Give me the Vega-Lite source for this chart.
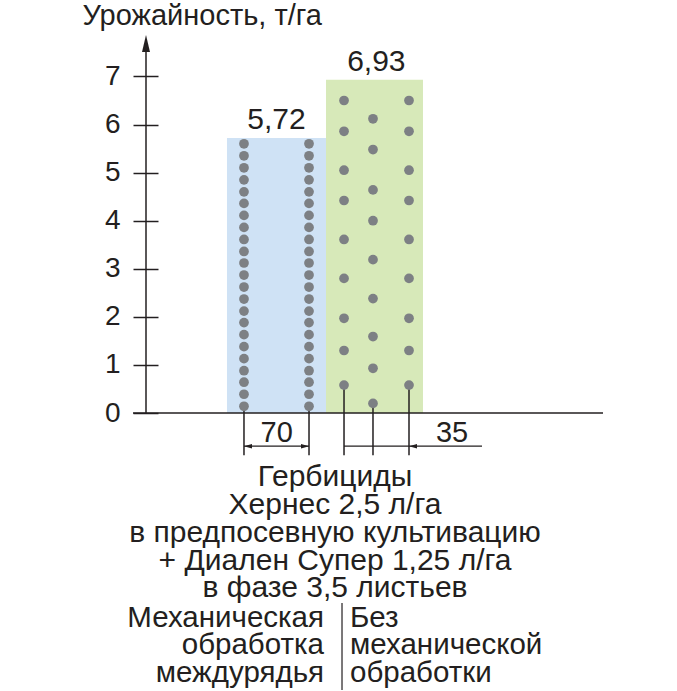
{
  "$schema": "https://vega.github.io/schema/vega-lite/v6.json",
  "width": 457,
  "height": 375,
  "autosize": {"type": "none"},
  "padding": {"left": 146, "top": 38, "right": 74, "bottom": 278},
  "background": "white",
  "config": {
    "view": {"stroke": null},
    "font": "Liberation Sans",
    "locale": {"number": {"decimal": ",", "thousands": " ", "grouping": [3], "currency": ["", " ₽"]}},
    "text": {"font": "Liberation Sans", "fontSize": 28, "color": "#231f20"}
  },
  "datasets": {
    "bars": [
      {"group": "Механическая обработка междурядья", "yield": 5.72, "x0": 17.72, "x1": 39.39, "xc": 28.55},
      {"group": "Без механической обработки", "yield": 6.93, "x0": 39.39, "x1": 60.61, "xc": 50.4}
    ],
    "dots": [
      {"x": 21.44, "y": 0.14}, {"x": 21.44, "y": 0.39}, {"x": 21.44, "y": 0.64}, {"x": 21.44, "y": 0.88},
      {"x": 21.44, "y": 1.13}, {"x": 21.44, "y": 1.38}, {"x": 21.44, "y": 1.63}, {"x": 21.44, "y": 1.88},
      {"x": 21.44, "y": 2.12}, {"x": 21.44, "y": 2.37}, {"x": 21.44, "y": 2.62}, {"x": 21.44, "y": 2.87},
      {"x": 21.44, "y": 3.12}, {"x": 21.44, "y": 3.36}, {"x": 21.44, "y": 3.61}, {"x": 21.44, "y": 3.86},
      {"x": 21.44, "y": 4.11}, {"x": 21.44, "y": 4.36}, {"x": 21.44, "y": 4.60}, {"x": 21.44, "y": 4.85},
      {"x": 21.44, "y": 5.10}, {"x": 21.44, "y": 5.35}, {"x": 21.44, "y": 5.60},
      {"x": 35.67, "y": 0.14}, {"x": 35.67, "y": 0.39}, {"x": 35.67, "y": 0.64}, {"x": 35.67, "y": 0.88},
      {"x": 35.67, "y": 1.13}, {"x": 35.67, "y": 1.38}, {"x": 35.67, "y": 1.63}, {"x": 35.67, "y": 1.88},
      {"x": 35.67, "y": 2.12}, {"x": 35.67, "y": 2.37}, {"x": 35.67, "y": 2.62}, {"x": 35.67, "y": 2.87},
      {"x": 35.67, "y": 3.12}, {"x": 35.67, "y": 3.36}, {"x": 35.67, "y": 3.61}, {"x": 35.67, "y": 3.86},
      {"x": 35.67, "y": 4.11}, {"x": 35.67, "y": 4.36}, {"x": 35.67, "y": 4.60}, {"x": 35.67, "y": 4.85},
      {"x": 35.67, "y": 5.10}, {"x": 35.67, "y": 5.35}, {"x": 35.67, "y": 5.60},
      {"x": 43.33, "y": 6.50}, {"x": 43.33, "y": 5.86}, {"x": 43.33, "y": 5.05}, {"x": 43.33, "y": 4.42},
      {"x": 43.33, "y": 3.61}, {"x": 43.33, "y": 2.80}, {"x": 43.33, "y": 1.97}, {"x": 43.33, "y": 1.30},
      {"x": 43.33, "y": 0.58},
      {"x": 57.55, "y": 6.50}, {"x": 57.55, "y": 5.86}, {"x": 57.55, "y": 5.05}, {"x": 57.55, "y": 4.42},
      {"x": 57.55, "y": 3.61}, {"x": 57.55, "y": 2.80}, {"x": 57.55, "y": 1.97}, {"x": 57.55, "y": 1.30},
      {"x": 57.55, "y": 0.58},
      {"x": 49.67, "y": 6.12}, {"x": 49.67, "y": 5.48}, {"x": 49.67, "y": 4.64}, {"x": 49.67, "y": 4.00},
      {"x": 49.67, "y": 3.19}, {"x": 49.67, "y": 2.38}, {"x": 49.67, "y": 1.59}, {"x": 49.67, "y": 0.93},
      {"x": 49.67, "y": 0.20}
    ],
    "rows": [
      {"x": 21.44, "y": 0.14}, {"x": 35.67, "y": 0.14},
      {"x": 43.33, "y": 0.58}, {"x": 49.67, "y": 0.20}, {"x": 57.55, "y": 0.58}
    ],
    "spacing": [
      {"label": "70", "x": 21.44, "x2": 35.67, "xl": 28.6},
      {"label": "35", "x": 43.33, "x2": 73.52, "xl": 66.96}
    ],
    "arrowsLeft": [{"x": 21.44}, {"x": 57.55}],
    "arrowsRight": [{"x": 35.67}],
    "caption": [
      {"line": "Гербициды", "y": -1.52},
      {"line": "Хернес 2,5 л/га", "y": -2.10},
      {"line": "в предпосевную культивацию", "y": -2.68},
      {"line": "+ Диален Супер 1,25 л/га", "y": -3.265},
      {"line": "в фазе 3,5 листьев", "y": -3.83}
    ],
    "leftCol": [
      {"line": "Механическая", "y": -4.45},
      {"line": "обработка", "y": -5.01},
      {"line": "междурядья", "y": -5.60}
    ],
    "rightCol": [
      {"line": "Без", "y": -4.45},
      {"line": "механической", "y": -5.01},
      {"line": "обработки", "y": -5.60}
    ]
  },
  "layer": [
    {
      "data": {"name": "bars"},
      "mark": {"type": "rect"},
      "encoding": {
        "x": {"field": "x0", "type": "quantitative", "scale": {"domain": [0, 100], "nice": false, "zero": false}, "axis": null},
        "x2": {"field": "x1"},
        "y": {"field": "yield", "type": "quantitative",
          "scale": {"domain": [0, 7.8], "nice": false},
          "axis": {
            "values": [0, 1, 2, 3, 4, 5, 6, 7],
            "domain": false, "grid": false,
            "ticks": true, "tickSize": 25, "tickWidth": 1.5, "tickColor": "#231f20",
            "offset": -12, "labelPadding": 13,
            "labelFont": "Liberation Sans", "labelFontSize": 28, "labelColor": "#231f20",
            "title": "Урожайность, т/га", "titleAngle": 0, "titleFont": "Liberation Sans",
            "titleFontSize": 29, "titleFontWeight": "normal", "titleColor": "#231f20",
            "titleAlign": "left", "titleBaseline": "alphabetic", "titleX": -76, "titleY": -14
          }
        },
        "y2": {"datum": 0},
        "color": {"field": "group", "type": "nominal", "legend": null,
          "scale": {"domain": ["Механическая обработка междурядья", "Без механической обработки"], "range": ["#cfe2f5", "#d7e9b9"]}}
      }
    },
    {
      "data": {"name": "bars"},
      "mark": {"type": "text", "baseline": "alphabetic", "align": "center", "dy": -9, "fontSize": 30},
      "encoding": {
        "x": {"field": "xc", "type": "quantitative"},
        "y": {"field": "yield", "type": "quantitative"},
        "text": {"field": "yield", "type": "quantitative", "format": ".2f"}
      }
    },
    {
      "data": {"name": "rows"},
      "mark": {"type": "rule", "strokeWidth": 1.5, "color": "#231f20"},
      "encoding": {
        "x": {"field": "x", "type": "quantitative"},
        "y": {"field": "y", "type": "quantitative"},
        "y2": {"datum": -0.88}
      }
    },
    {
      "data": {"name": "dots"},
      "mark": {"type": "point", "filled": true, "size": 95, "color": "#7d8084", "opacity": 1},
      "encoding": {
        "x": {"field": "x", "type": "quantitative"},
        "y": {"field": "y", "type": "quantitative"}
      }
    },
    {
      "data": {"values": [{"x0": 0, "y0": 0, "y1": 7.6}]},
      "mark": {"type": "rule", "strokeWidth": 1.5, "color": "#231f20"},
      "encoding": {
        "x": {"field": "x0", "type": "quantitative"},
        "y": {"field": "y0", "type": "quantitative"},
        "y2": {"field": "y1"}
      }
    },
    {
      "data": {"values": [{"x0": -2.84, "x1": 100, "y0": 0}]},
      "mark": {"type": "rule", "strokeWidth": 1.5, "color": "#231f20"},
      "encoding": {
        "x": {"field": "x0", "type": "quantitative"},
        "x2": {"field": "x1"},
        "y": {"field": "y0", "type": "quantitative"}
      }
    },
    {
      "data": {"values": [{"x": 0, "y": 7.685}]},
      "mark": {"type": "point", "filled": true, "size": 289, "color": "#231f20", "opacity": 1, "shape": "M0,-1L0.47,1L-0.47,1Z"},
      "encoding": {
        "x": {"field": "x", "type": "quantitative"},
        "y": {"field": "y", "type": "quantitative"}
      }
    },
    {
      "data": {"name": "spacing"},
      "mark": {"type": "rule", "strokeWidth": 1.2, "color": "#231f20"},
      "encoding": {
        "x": {"field": "x", "type": "quantitative"},
        "x2": {"field": "x2"},
        "y": {"datum": -0.69}
      }
    },
    {
      "data": {"name": "spacing"},
      "mark": {"type": "text", "baseline": "alphabetic", "align": "center", "fontSize": 29},
      "encoding": {
        "x": {"field": "xl", "type": "quantitative"},
        "y": {"datum": -0.6},
        "text": {"field": "label"}
      }
    },
    {
      "data": {"name": "arrowsLeft"},
      "mark": {"type": "point", "filled": true, "size": 256, "color": "#231f20", "opacity": 1, "shape": "M0,0L1,-0.28L1,0.28Z"},
      "encoding": {
        "x": {"field": "x", "type": "quantitative"},
        "y": {"datum": -0.69}
      }
    },
    {
      "data": {"name": "arrowsRight"},
      "mark": {"type": "point", "filled": true, "size": 256, "color": "#231f20", "opacity": 1, "shape": "M0,0L-1,-0.28L-1,0.28Z"},
      "encoding": {
        "x": {"field": "x", "type": "quantitative"},
        "y": {"datum": -0.69}
      }
    },
    {
      "data": {"name": "caption"},
      "mark": {"type": "text", "baseline": "alphabetic", "align": "center", "fontSize": 30},
      "encoding": {
        "x": {"datum": 41.36},
        "y": {"field": "y", "type": "quantitative"},
        "text": {"field": "line"}
      }
    },
    {
      "data": {"name": "leftCol"},
      "mark": {"type": "text", "baseline": "alphabetic", "align": "right", "fontSize": 29.5},
      "encoding": {
        "x": {"datum": 38.95},
        "y": {"field": "y", "type": "quantitative"},
        "text": {"field": "line"}
      }
    },
    {
      "data": {"name": "rightCol"},
      "mark": {"type": "text", "baseline": "alphabetic", "align": "left", "fontSize": 29.5},
      "encoding": {
        "x": {"datum": 44.64},
        "y": {"field": "y", "type": "quantitative"},
        "text": {"field": "line"}
      }
    },
    {
      "data": {"values": [{"x": 42.89, "y0": -3.95, "y1": -5.76}]},
      "mark": {"type": "rule", "strokeWidth": 1.2, "color": "#231f20"},
      "encoding": {
        "x": {"field": "x", "type": "quantitative"},
        "y": {"field": "y0", "type": "quantitative"},
        "y2": {"field": "y1"}
      }
    }
  ]
}
